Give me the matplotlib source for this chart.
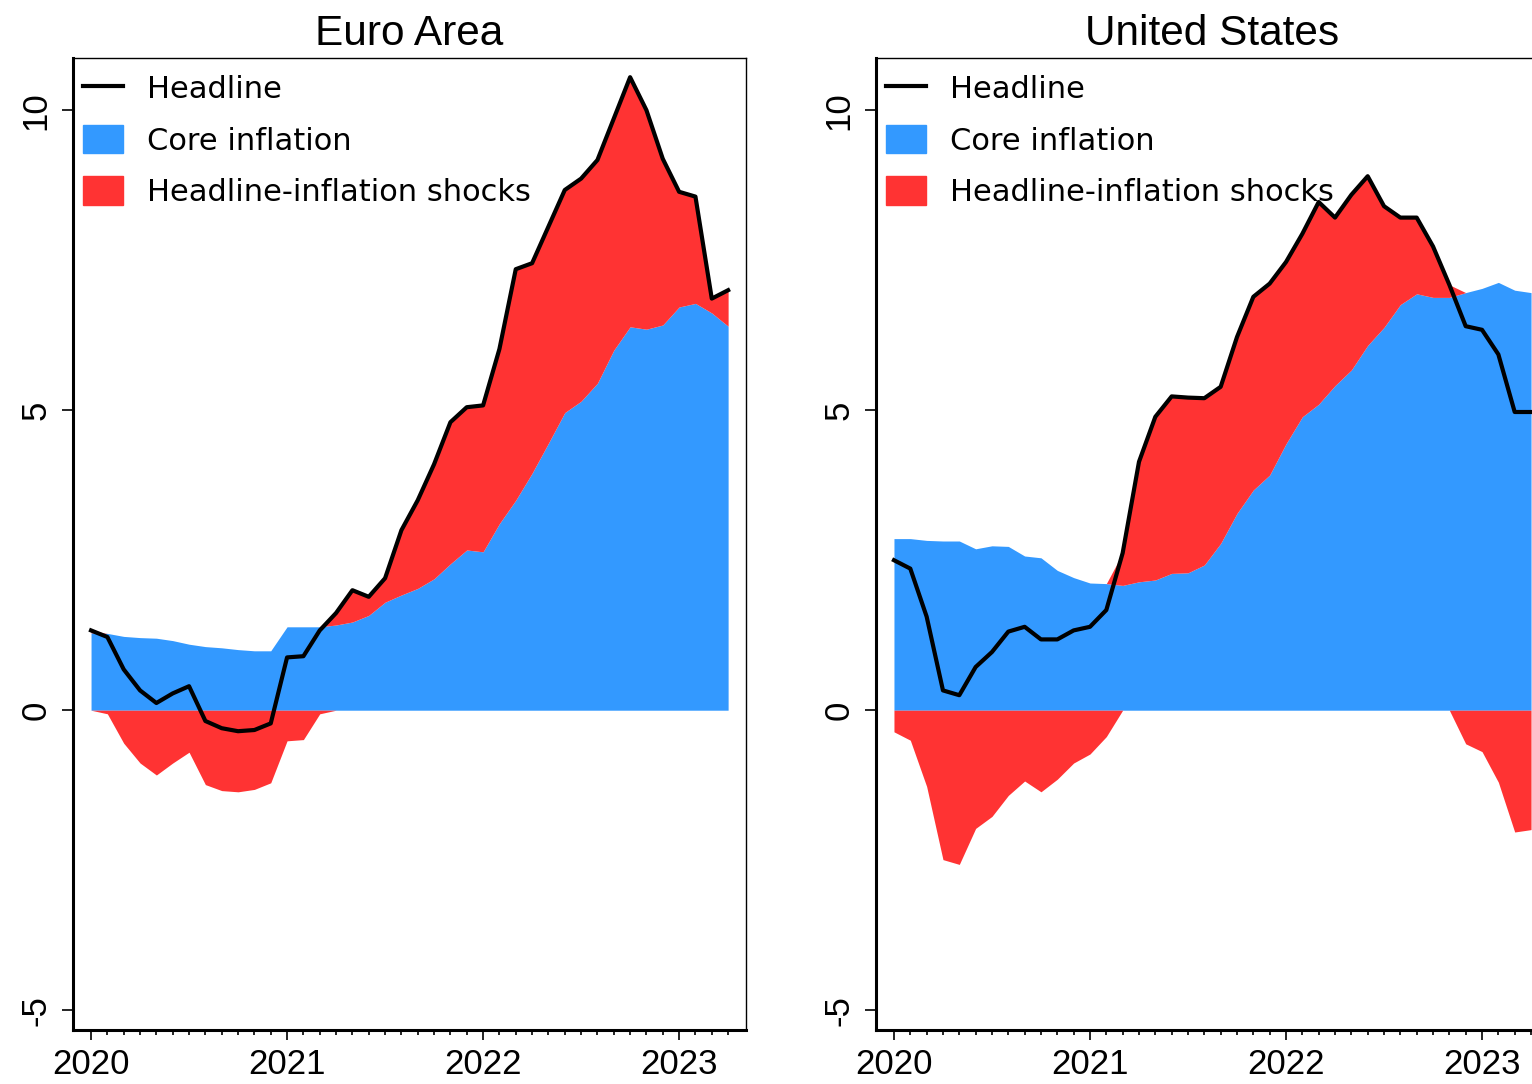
import numpy as np
import matplotlib
matplotlib.use('Agg')
import matplotlib.pyplot as plt
from matplotlib.lines import Line2D
from matplotlib.patches import Patch

# Monate ab Januar 2020 (0 = Jan 2020, 39 = Apr 2023)
months = np.arange(40)
year_ticks = [0, 12, 24, 36]
year_labels = ['2020', '2021', '2022', '2023']
y_ticks = [-5, 0, 5, 10]
titles = ['Euro Area', 'United States']
legend_labels = ['Headline', 'Core inflation', 'Headline-inflation shocks']

# Euroraum
ea_headline = [1.33, 1.22, 0.68, 0.33, 0.12, 0.28, 0.40, -0.18, -0.30, -0.35,
               -0.33, -0.22, 0.88, 0.90, 1.33, 1.62, 2.00, 1.89, 2.20, 3.00,
               3.50, 4.10, 4.80, 5.05, 5.08, 6.02, 7.35, 7.45, 8.06, 8.67,
               8.86, 9.17, 9.86, 10.55, 10.00, 9.19, 8.64, 8.56, 6.86, 7.00]
ea_core = [1.29, 1.28, 1.23, 1.21, 1.20, 1.16, 1.10, 1.06, 1.04, 1.01,
           0.99, 0.99, 1.39, 1.39, 1.39, 1.42, 1.47, 1.58, 1.80, 1.92,
           2.03, 2.19, 2.44, 2.67, 2.64, 3.11, 3.50, 3.95, 4.45, 4.96,
           5.15, 5.45, 6.00, 6.39, 6.35, 6.42, 6.72, 6.78, 6.62, 6.40]

# USA
us_headline = [2.50, 2.36, 1.56, 0.33, 0.25, 0.72, 0.97, 1.31, 1.39, 1.18,
               1.18, 1.33, 1.39, 1.67, 2.62, 4.14, 4.89, 5.23, 5.21, 5.20,
               5.39, 6.22, 6.89, 7.11, 7.47, 7.94, 8.47, 8.21, 8.59, 8.90,
               8.40, 8.21, 8.21, 7.73, 7.09, 6.40, 6.34, 5.93, 4.97, 4.97]
us_core = [2.86, 2.86, 2.83, 2.82, 2.82, 2.69, 2.74, 2.73, 2.57, 2.54,
           2.33, 2.21, 2.12, 2.11, 2.08, 2.14, 2.17, 2.28, 2.29, 2.42,
           2.78, 3.28, 3.67, 3.92, 4.44, 4.89, 5.10, 5.41, 5.67, 6.08,
           6.38, 6.76, 6.94, 6.88, 6.88, 6.96, 7.03, 7.13, 7.00, 6.96]

blau = '#3399ff'
rot = '#ff3333'

plt.rcParams['font.family'] = ['Liberation Sans', 'DejaVu Sans']


def panel(ax, headline, core, title):
    headline = np.array(headline)
    core = np.array(core)
    shock = headline - core

    # Flaechen: Kerninflation, positive und negative Schocks
    ax.fill_between(months, 0, core, color=blau, lw=0)
    ax.fill_between(months, core, core + np.maximum(shock, 0), color=rot, lw=0)
    ax.fill_between(months, np.minimum(shock, 0), 0, color=rot, lw=0)
    ax.plot(months, headline, color='black', lw=3)

    ax.set_xlim(-1.1, 40.1)
    ax.set_ylim(-5.33, 10.87)
    ax.set_xticks(year_ticks)
    ax.set_xticklabels(year_labels)
    ax.set_xticks(months, minor=True)
    ax.set_yticks(y_ticks)
    ax.set_yticklabels([str(t) for t in y_ticks])

    ax.tick_params(axis='x', which='major', length=7, width=1.2, labelsize=25, pad=6)
    ax.tick_params(axis='x', which='minor', length=3.5, width=1.2)
    ax.tick_params(axis='y', length=8, width=1.2, labelsize=25, pad=7)
    for lab in ax.get_yticklabels():
        lab.set_rotation(90)
        lab.set_va('center')

    for s in ['left', 'bottom']:
        ax.spines[s].set_linewidth(2.2)
    for s in ['top', 'right']:
        ax.spines[s].set_linewidth(1.0)

    ax.set_title(title, fontsize=30.5, pad=9)

    handles = [Line2D([], [], color='black', lw=3),
               Patch(color=blau), Patch(color=rot)]
    ax.legend(handles, legend_labels, loc='upper left', bbox_to_anchor=(0.0149, 0.984),
              borderaxespad=0, borderpad=0, frameon=False,
              prop={'family': 'DejaVu Sans', 'size': 22},
              handlelength=1.3, handleheight=1.05, handletextpad=0.8, labelspacing=0.68)


fig = plt.figure(figsize=(15.32, 10.84), dpi=100)
ax1 = fig.add_axes([0.0477, 0.0498, 0.4393, 0.8967])
ax2 = fig.add_axes([0.5718, 0.0498, 0.4393, 0.8967])

panel(ax1, ea_headline, ea_core, titles[0])
panel(ax2, us_headline, us_core, titles[1])

fig.savefig('out.png', dpi=100)
